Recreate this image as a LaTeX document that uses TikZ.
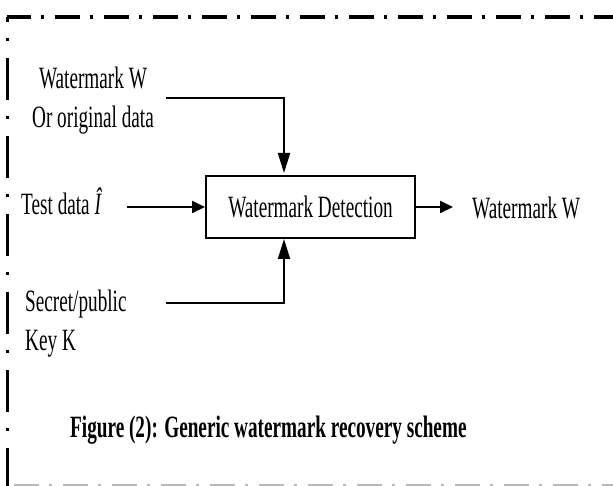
\documentclass[tikz,border=0pt]{standalone}
\usepackage{fontspec}
\usepackage{graphicx}
\setmainfont{Liberation Serif}
\usetikzlibrary{arrows.meta}
\newcommand\sqz[1]{\scalebox{0.62}[1]{#1}}
\begin{document}
\begin{tikzpicture}[x=1pt,y=-1pt,
  lbl/.style={inner sep=0pt, font=\fontsize{31}{39}\selectfont},
  conn/.style={line width=2pt},
  varr/.style={conn,-{Triangle[length=20pt,width=12pt]}},
  harr/.style={conn,-{Triangle[length=13pt,width=12pt]}},
  frameH/.style={line width=4pt, dash pattern=on 25pt off 10pt on 3pt off 11pt, dash phase=1.5pt},
  frameV/.style={line width=3pt, dash pattern=on 42pt off 16pt on 3pt off 17pt, dash phase=37pt},
  frameB/.style={line width=2pt, gray!55, dash pattern=on 25pt off 10pt on 3pt off 11pt}]
\useasboundingbox (0,0) rectangle (613,486);
\fill[white] (0,0) rectangle (613,486);
% frame
\draw[frameH] (7,17) -- (640,17);
\draw[frameV] (7,17) -- (7,490);
\draw[frameB] (14,485) -- (640,485);
% nodes
\node[lbl, anchor=base] (wm) at (93,89) {\sqz{\begin{tabular}[t]{@{}c@{}}Watermark W\\Or original data\end{tabular}}};
\node[lbl, anchor=base west] (test) at (21,215) {\sqz{Test data \textit{Î}}};
\node[lbl, anchor=base west] (key) at (25,312) {\sqz{\begin{tabular}[t]{@{}l@{}}Secret/public\\Key K\end{tabular}}};
\node[lbl, draw, line width=2pt, minimum width=209pt, minimum height=62pt] (box) at (310.5,207) {\sqz{Watermark Detection}\hspace{10pt}};
\node[lbl, anchor=base west] (out) at (472,219) {\sqz{Watermark W}};
\node[lbl, anchor=base west] (cap) at (70,437) {\sqz{\bfseries Figure (2): Generic watermark recovery scheme}};
% connectors
\coordinate (c1) at (166,98);
\coordinate (c2) at (166,303);
\coordinate (c3) at (127,207);
\coordinate (c4) at (453,207);
\draw[varr, shorten >=2pt] (c1) -| ([xshift=-26.5pt]box.north);
\draw[varr] (c2) -| ([xshift=-26.5pt]box.south);
\draw[harr] (c3) -- (box.west);
\draw[harr] (box.east) -- (c4);
\end{tikzpicture}
\end{document}
